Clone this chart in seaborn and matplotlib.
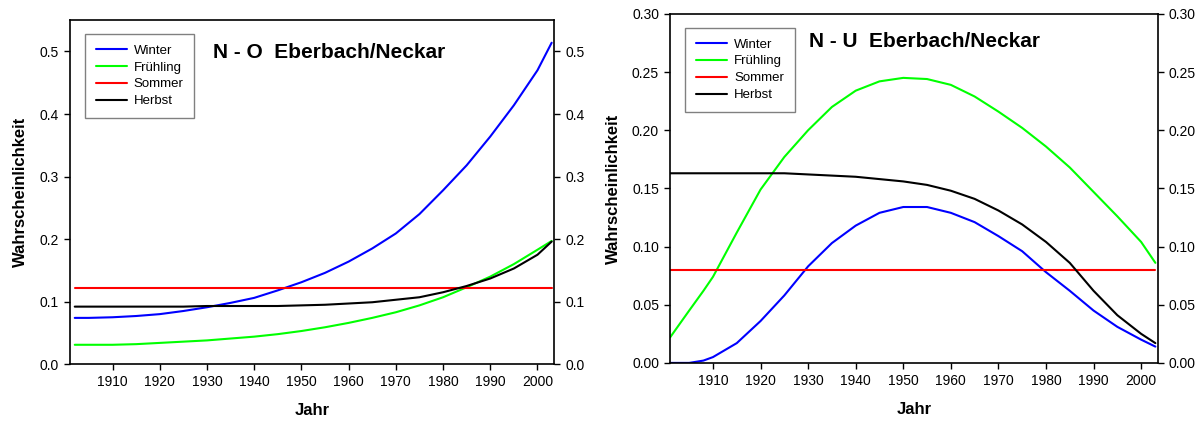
import pandas as pd
import matplotlib.pyplot as plt
import matplotlib.ticker as mticker
import seaborn as sns

sns.set_style("ticks")
plt.rcParams['font.family'] = ['Liberation Sans', 'DejaVu Sans']
plt.rcParams['text.color'] = 'black'
plt.rcParams['axes.labelcolor'] = 'black'
plt.rcParams['xtick.color'] = 'black'
plt.rcParams['ytick.color'] = 'black'

seasons = ['Winter', 'Frühling', 'Sommer', 'Herbst']
colors = {'Winter': '#0000ff', 'Frühling': '#00ff00', 'Sommer': '#ff0000', 'Herbst': '#000000'}

# left panel: N - O
years_no = [1902, 1905, 1910, 1915, 1920, 1925, 1930, 1935, 1940, 1945, 1950, 1955,
            1960, 1965, 1970, 1975, 1980, 1985, 1990, 1995, 2000, 2003]
winter_no = [0.074, 0.074, 0.075, 0.077, 0.080, 0.085, 0.091, 0.098, 0.106, 0.118, 0.131, 0.146,
             0.164, 0.185, 0.209, 0.240, 0.278, 0.318, 0.364, 0.414, 0.470, 0.514]
fruehling_no = [0.031, 0.031, 0.031, 0.032, 0.034, 0.036, 0.038, 0.041, 0.044, 0.048, 0.053, 0.059,
                0.066, 0.074, 0.083, 0.094, 0.107, 0.123, 0.140, 0.160, 0.183, 0.197]
sommer_no = [0.121] * len(years_no)
herbst_no = [0.092, 0.092, 0.092, 0.092, 0.092, 0.092, 0.093, 0.093, 0.093, 0.093, 0.094, 0.095,
             0.097, 0.099, 0.103, 0.107, 0.115, 0.125, 0.137, 0.153, 0.175, 0.196]

# right panel: N - U
years_nu = [1901, 1905, 1908, 1910, 1915, 1920, 1925, 1930, 1935, 1940, 1945, 1950, 1955,
            1960, 1965, 1970, 1975, 1980, 1985, 1990, 1995, 2000, 2003]
winter_nu = [0.000, 0.000, 0.002, 0.005, 0.017, 0.036, 0.058, 0.083, 0.103, 0.118, 0.129, 0.134, 0.134,
             0.129, 0.121, 0.109, 0.096, 0.078, 0.062, 0.045, 0.031, 0.020, 0.014]
fruehling_nu = [0.022, 0.045, 0.062, 0.074, 0.112, 0.149, 0.177, 0.200, 0.220, 0.234, 0.242, 0.245, 0.244,
                0.239, 0.229, 0.216, 0.202, 0.186, 0.168, 0.147, 0.126, 0.104, 0.086]
sommer_nu = [0.080] * len(years_nu)
herbst_nu = [0.163, 0.163, 0.163, 0.163, 0.163, 0.163, 0.163, 0.162, 0.161, 0.160, 0.158, 0.156, 0.153,
             0.148, 0.141, 0.131, 0.119, 0.104, 0.086, 0.062, 0.041, 0.025, 0.017]


def long_df(years, series):
    rows = []
    for name, vals in zip(seasons, series):
        for y, v in zip(years, vals):
            rows.append({'Jahr': y, 'Wert': v, 'Saison': name})
    return pd.DataFrame(rows)


df_no = long_df(years_no, [winter_no, fruehling_no, sommer_no, herbst_no])
df_nu = long_df(years_nu, [winter_nu, fruehling_nu, sommer_nu, herbst_nu])

fig = plt.figure(figsize=(12.01, 4.21), dpi=100)
ax1 = fig.add_axes([0.0583, 0.135, 0.403, 0.817])
ax2 = fig.add_axes([0.558, 0.138, 0.406, 0.829])

panels = [
    (ax1, df_no, 'N - O  Eberbach/Neckar', (0, 0.55), [0, 0.1, 0.2, 0.3, 0.4, 0.5], '%.1f', (0.295, 0.905)),
    (ax2, df_nu, 'N - U  Eberbach/Neckar', (0, 0.30), [0, 0.05, 0.10, 0.15, 0.20, 0.25, 0.30], '%.2f', (0.285, 0.92)),
]

for ax, df, title, ylim, yticks, fmt, tpos in panels:
    sns.lineplot(data=df, x='Jahr', y='Wert', hue='Saison', hue_order=seasons,
                 palette=colors, linewidth=1.5, ax=ax)
    ax.set_xlim(1901, 2003.5)
    ax.set_ylim(*ylim)
    ax.set_xticks(range(1910, 2001, 10))
    ax.set_yticks(yticks)
    ax.yaxis.set_major_formatter(mticker.FormatStrFormatter(fmt))
    ax.tick_params(axis='both', direction='out', length=4, width=1, labelsize=10,
                   right=True, labelright=True, pad=4)
    for sp in ax.spines.values():
        sp.set_visible(True)
        sp.set_linewidth(1.2)
        sp.set_color('black')
    ax.set_xlabel('Jahr', fontsize=12, fontweight='bold', labelpad=10)
    ax.set_ylabel('Wahrscheinlichkeit', fontsize=12, fontweight='bold', labelpad=8)
    ax.text(tpos[0], tpos[1], title, transform=ax.transAxes, fontsize=15,
            fontweight='bold', va='center', ha='left')
    leg = ax.legend(loc='upper left', bbox_to_anchor=(0.031, 0.96), borderaxespad=0,
                    fontsize=9.5, frameon=True, fancybox=False, edgecolor='#808080',
                    framealpha=1, handlelength=2.4, labelspacing=0.35, borderpad=0.8,
                    handletextpad=0.5, title=None)
    leg.get_frame().set_linewidth(1.0)

fig.savefig('out.png', dpi=100)
